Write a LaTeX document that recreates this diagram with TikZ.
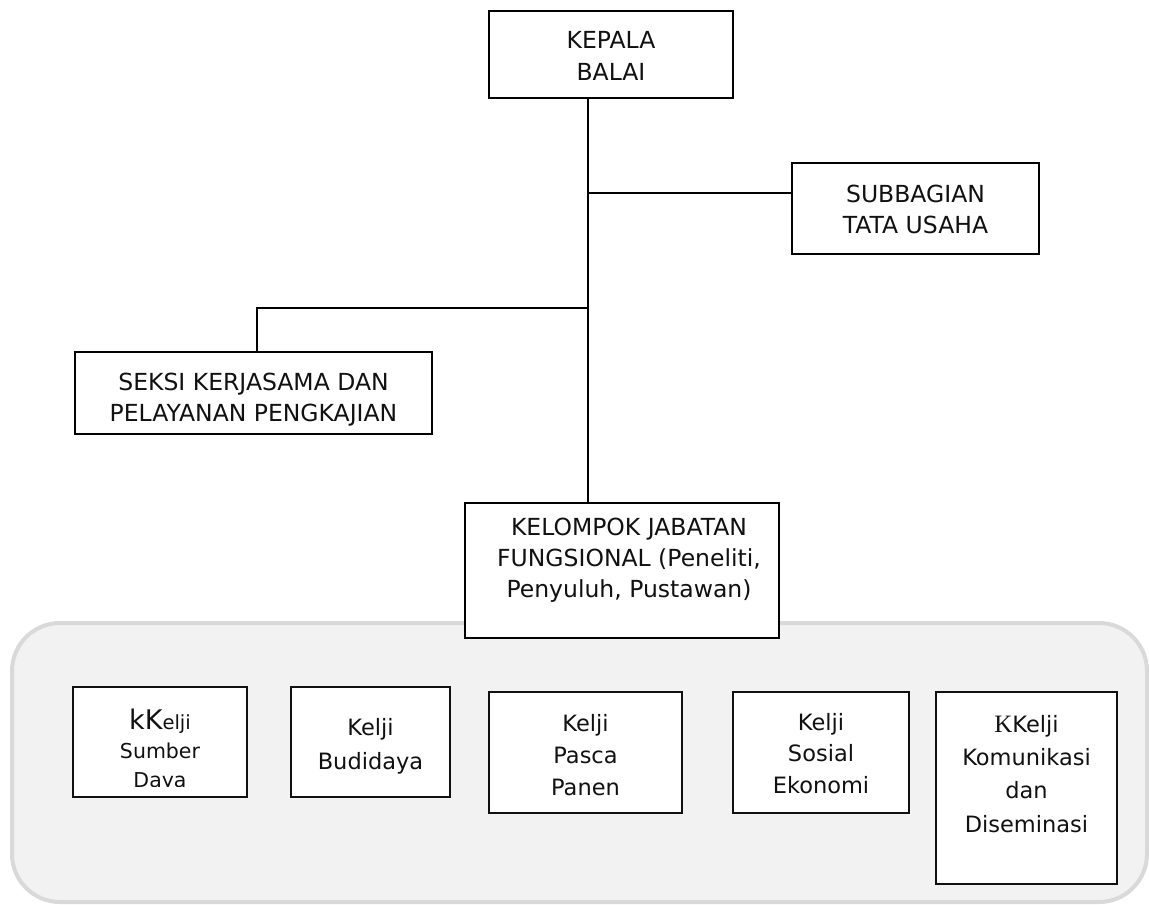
\documentclass[tikz,border=0pt]{standalone}
\usepackage{fontspec}
\setmainfont{DejaVu Sans}
\newfontfamily\serifk{Liberation Serif}
\newcommand\myfl{\rule{0pt}{20pt}}
\definecolor{regfill}{HTML}{F2F2F2}
\definecolor{regline}{HTML}{D9D9D9}
\definecolor{ink}{HTML}{111111}
\begin{document}
\begin{tikzpicture}[x=1pt,y=-1pt,
  box/.style={draw=black,line width=1.5pt,fill=white,inner sep=0pt},
  kbox/.style={draw=ink,line width=2.6pt,fill=white,inner sep=0pt},
  conn/.style={draw=black,line width=1.5pt},
  ttop/.style={anchor=north,inner sep=0pt,align=center,text=ink,font=\fontsize{23.5}{31.5}\selectfont},
  tbot/.style={anchor=north,inner sep=0pt,align=center,text=ink,font=\fontsize{22.5}{32}\selectfont},
]
\useasboundingbox (0,0) rectangle (1149,905);

% grey region
\draw[draw=regline,fill=regfill,line width=4pt,rounded corners=48pt] (12,623) rectangle (1147,902);

% boxes of the upper chart
\node[box,minimum width=244pt,minimum height=87pt] (kepala) at (611,54.5) {};
\node[box,minimum width=247pt,minimum height=91pt] (subbag) at (915.5,208.5) {};
\node[box,minimum width=357pt,minimum height=82pt] (seksi) at (253.5,393) {};

% connectors
\coordinate (t) at (588,0);
\coordinate (b1) at (588,193);
\coordinate (b2) at (588,308);
\coordinate (s) at (257,0);

\node[box,minimum width=314pt,minimum height=135pt] (kelompok) at (622,570.5) {};

\draw[conn] (kepala.south -| t) -- (kelompok.north -| t);
\draw[conn] (b1) -- (b1 -| subbag.west);
\draw[conn] (b2) -| (seksi.north -| s);

% texts of the upper chart
\node[ttop,font=\fontsize{23.5}{32}\selectfont] (kepala-t) at (611,28) {\myfl KEPALA\\BALAI};
\node[ttop,font=\fontsize{23.5}{31}\selectfont] (subbag-t) at (915.5,182) {\myfl SUBBAGIAN\\TATA USAHA};
\node[ttop,font=\fontsize{23.5}{31}\selectfont] (seksi-t) at (253.5,370.7) {\myfl SEKSI KERJASAMA DAN\\PELAYANAN PENGKAJIAN};
\node[ttop,font=\fontsize{23.5}{31}\selectfont] (kelompok-t) at (629,515) {\myfl KELOMPOK JABATAN\\FUNGSIONAL (Peneliti,\\Penyuluh, Pustawan)};

% lower boxes
\node[kbox,minimum width=174pt,minimum height=110pt] (k1) at (160,742) {};
\node[kbox,minimum width=159pt,minimum height=110pt] (k2) at (370.5,742) {};
\node[kbox,minimum width=193pt,minimum height=121pt] (k3) at (585.5,752.5) {};
\node[kbox,minimum width=176pt,minimum height=121pt] (k4) at (821,752.5) {};
\node[kbox,minimum width=181pt,minimum height=192pt] (k5) at (1026.5,788) {};

\begin{scope}
  \clip (73,687) rectangle (247,786);
  \node[tbot,font=\fontsize{20.5}{29}\selectfont] (k1-t) at (160,709) {\myfl{\fontsize{27}{29}\selectfont kK}{\fontsize{19.5}{29}\selectfont elji}\\Sumber\\Daya};
\end{scope}
\node[tbot,font=\fontsize{22.5}{33.3}\selectfont] (k2-t) at (370.5,715.7) {\myfl Kelji\\Budidaya};
\node[tbot] (k3-t) at (585.5,711) {\myfl Kelji\\Pasca\\Panen};
\node[tbot,font=\fontsize{22.5}{31.5}\selectfont] (k4-t) at (821,710) {\myfl Kelji\\Sosial\\Ekonomi};
\node[tbot,font=\fontsize{22.5}{33.2}\selectfont] (k5-t) at (1026.5,712.3) {\myfl{\serifk\fontsize{25}{33}\selectfont K}Kelji\\Komunikasi\\dan\\Diseminasi};

\end{tikzpicture}
\end{document}
